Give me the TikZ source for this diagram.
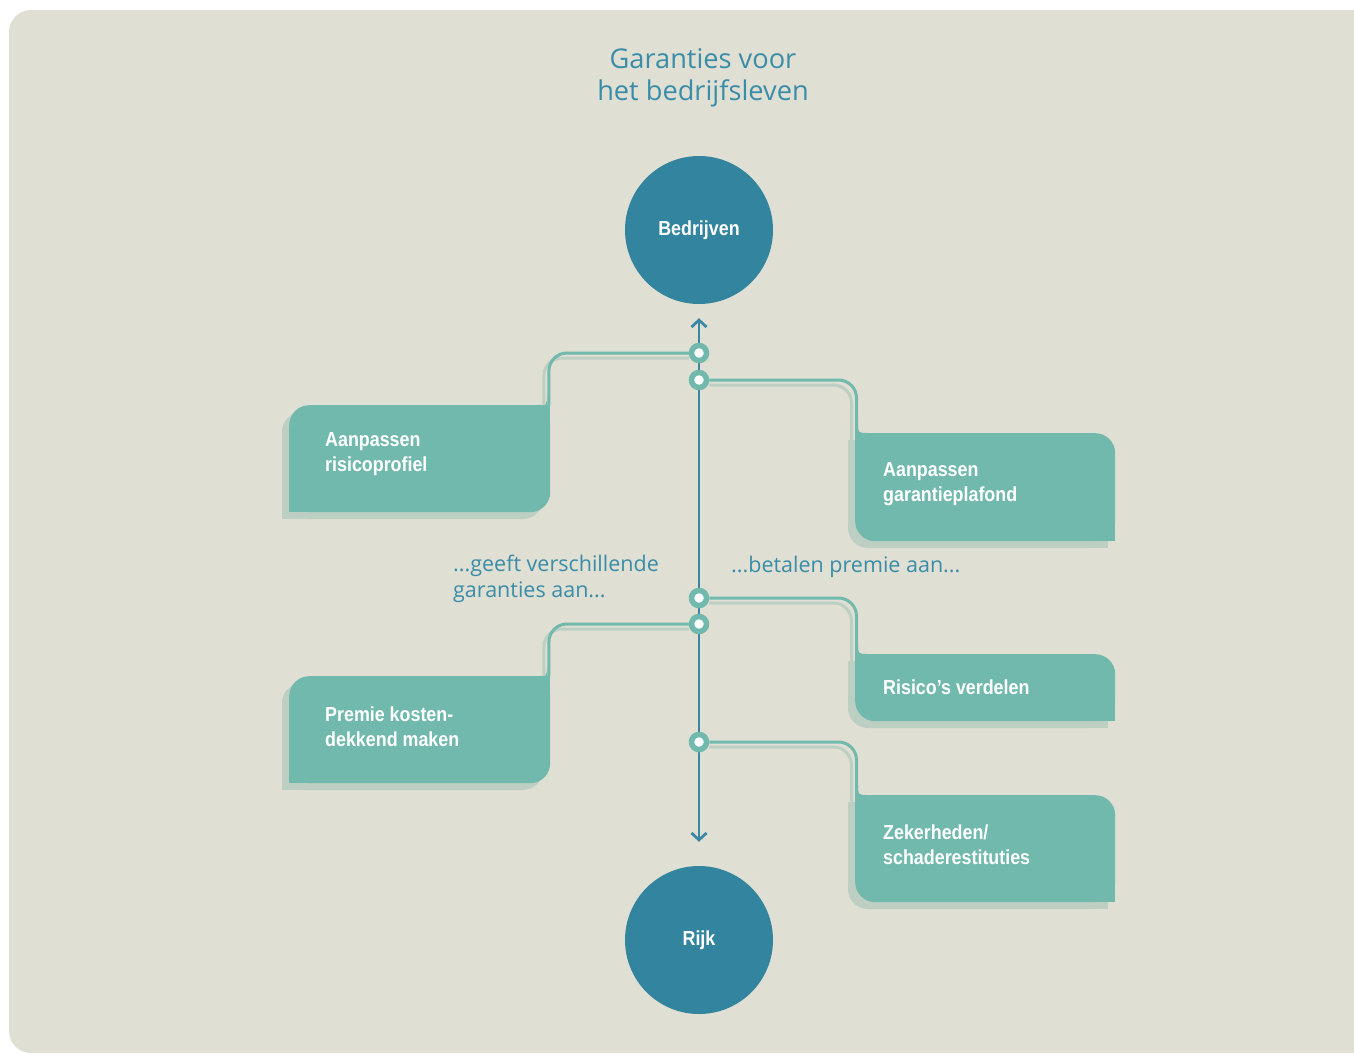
\documentclass[tikz,border=0pt]{standalone}
\usepackage{fontspec}
\setmainfont{Open Sans}
\newfontfamily\blokfont[FakeStretch=0.88]{Liberation Sans}
\usetikzlibrary{arrows.meta,positioning}
\definecolor{achter}{HTML}{DFDFD3}
\definecolor{rolblauw}{HTML}{32849F}
\definecolor{lijnblauw}{HTML}{3A86A3}
\definecolor{tekstblauw}{HTML}{3A8DA8}
\definecolor{groen}{HTML}{71B9AD}
\definecolor{schaduw}{HTML}{BDCFC3}
\tikzset{
  titel/.style={align=center, text=tekstblauw, font=\fontsize{27.2}{32}\selectfont},
  uitleg/.style={align=left, text=tekstblauw, inner sep=0pt, font=\fontsize{21.5}{26}\selectfont},
  rol/.style={circle, fill=rolblauw, minimum size=148pt, inner sep=0pt, text=white, font=\blokfont\bfseries\fontsize{20.3}{25}\selectfont},
  knoop/.style={circle, fill=white, draw=groen, line width=5.5pt, minimum size=15pt, inner sep=0pt},
  blok/.style={fill=groen, rounded corners=20pt, inner sep=0pt, anchor=north west},
  bloktekst/.style={align=left, anchor=north west, inner sep=0pt, text=white, font=\blokfont\bfseries\fontsize{20.3}{25}\selectfont},
  tak/.style={draw=groen, line width=3pt, rounded corners=18pt},
  takschaduw/.style={draw=schaduw, line width=3pt, rounded corners=18pt},
  as/.style={draw=lijnblauw, line width=2.7pt, {Straight Barb[length=7pt,width=15pt]}-{Straight Barb[length=7pt,width=15pt]}, shorten <=14pt, shorten >=24pt}
}
\begin{document}
\begin{tikzpicture}[x=1pt,y=-1pt]
  \useasboundingbox (0,0) rectangle (1354,1055);
  \fill[white] (0,0) rectangle (1354,1055);
  \begin{scope}
    \clip (0,0) rectangle (1354,1055);
    \fill[achter, rounded corners=22pt] (9,10) rectangle (1400,1053);
  \end{scope}

  \node[titel] (titel) at (703,78) {Garanties voor\\het bedrijfsleven};

  \node[rol] (bedrijven) at (699,230) {Bedrijven};
  \node[rol] (rijk) at (699,940) {Rijk};
  \draw[as] (bedrijven) -- (rijk);

  \foreach \k/\y in {1/353,2/380,3/598,4/624,5/742}
    \node[knoop] (k\k) at (699,\y) {};

  % blokken links
  \foreach \nm/\y/\h/\ty/\txt in {r1/405/107/432/{Aanpassen\\risicoprofiel}, r4/676/107/707/{Premie kosten-\\dekkend maken}} {
    \fill[schaduw, rounded corners=20pt] (282,\y+7) rectangle ++(261,\h);
    \fill[schaduw] (282,\y+\h+7) rectangle ++(20,-20);
    \fill[schaduw] (543,\y+7) rectangle ++(-20,20);
    \node[blok, minimum width=261pt, minimum height=\h pt] (\nm) at (289,\y) {};
    \fill[groen] (\nm.south west) rectangle ++(20,-20);
    \fill[groen] (\nm.north east) rectangle ++(-20,20);
    \fill[groen] (547,\y-10) .. controls (547,\y) .. (537,\y) -- (547,\y) -- cycle;
    \node[bloktekst] (\nm t) at (325,\ty) {\txt};
  }

  % blokken rechts
  \foreach \nm/\y/\h/\ty/\txt in {r2/433/108/462/{Aanpassen\\garantieplafond}, r3/654/67/680/{Risico’s verdelen}, r5/795/107/825/{Zekerheden/\\schaderestituties}} {
    \fill[schaduw, rounded corners=20pt] (848,\y+7) rectangle ++(260,\h);
    \fill[schaduw] (848,\y+7) rectangle ++(20,20);
    \fill[schaduw] (1108,\y+\h+7) rectangle ++(-20,-20);
    \node[blok, minimum width=260pt, minimum height=\h pt] (\nm) at (855,\y) {};
    \fill[groen] (\nm.north west) rectangle ++(20,20);
    \fill[groen] (\nm.south east) rectangle ++(-20,-20);
    \fill[groen] (858,\y-10) .. controls (858,\y) .. (868,\y) -- (858,\y) -- cycle;
    \node[bloktekst] (\nm t) at (883,\ty) {\txt};
  }

  \draw[takschaduw] ([yshift=-5pt]k1.west) -| ([xshift=-6.5pt]r1.north east);
  \draw[tak] (k1) -| ([xshift=-1.5pt]r1.north east);
  \draw[takschaduw] ([yshift=-5pt]k4.west) -| ([xshift=-6.5pt]r4.north east);
  \draw[tak] (k4) -| ([xshift=-1.5pt]r4.north east);
  \foreach \k/\nm in {2/r2,3/r3,5/r5} {
    \draw[takschaduw] ([yshift=-5pt]k\k.east) -| ([shift={(-3.5,10)}]\nm.north west);
    \draw[tak] (k\k) -| ([xshift=1.5pt]\nm.north west);
  }

  \node[uitleg, anchor=north west] (geeft) at (453,555) {...geeft verschillende\\garanties aan...};
  \node[uitleg, anchor=base west] (betalen) at (731,572) {...betalen premie aan...};
\end{tikzpicture}
\end{document}
